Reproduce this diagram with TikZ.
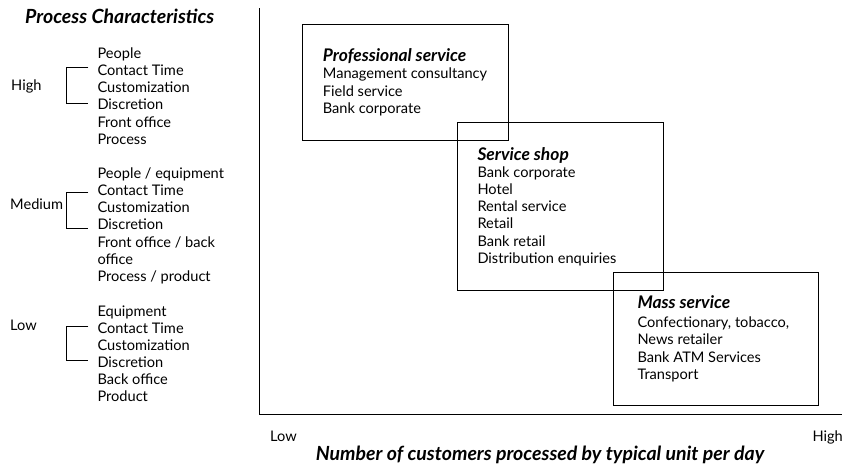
\documentclass[tikz,border=0pt]{standalone}
\usepackage{fontspec}
\setmainfont{Lato}
\begin{document}
\begin{tikzpicture}[x=1pt,y=-1pt,
  txt/.style={anchor=base west,inner sep=0pt,font=\fontsize{14.6}{17.2}\selectfont},
  head/.style={anchor=base west,inner sep=0pt,font=\fontsize{17.4}{20}\selectfont\bfseries\itshape},
  big/.style={inner sep=0pt,font=\fontsize{19.5}{22}\selectfont\bfseries\itshape},
  box/.style={draw,line width=0.9pt},
  ln/.style={line width=0.9pt}]
\useasboundingbox (0,0) rectangle (843,464);
% axes
\coordinate (ytop) at (259.5,8);
\coordinate (orig) at (259.5,414.3);
\coordinate (xend) at (842,414.3);
\draw[ln] (ytop) -- (orig) -- (xend);
% boxes
\draw[box] (302.7,24.3) rectangle (508,140);
\draw[box] (457.3,122.3) rectangle (663.3,290);
\draw[box] (613.3,272.3) rectangle (818.3,405.7);
% box texts
\node[head] (ph) at (322.7,61.7) {Professional service};
\foreach \t [count=\i] in {Management consultancy,Field service,Bank corporate}
  \node[txt] (pt\i) at (322.7,61.7+17.2*\i) {\t};
\node[head] (sh) at (477.3,160) {Service shop};
\foreach \t [count=\i] in {Bank corporate,Hotel,Rental service,Retail,Bank retail,Distribution enquiries}
  \node[txt] (st\i) at (477.3,160+17.2*\i) {\t};
\node[head] (mh) at (637.3,308.3) {Mass service};
\foreach \t [count=\i] in {{Confectionary, tobacco,},News retailer,Bank ATM Services,Transport}
  \node[txt] (mt\i) at (637.3,310.5+17.2*\i) {\t};
% left panel
\node[big,anchor=base west] (title) at (25,23.5) {Process Characteristics};
\node[txt] (hi) at (11,90) {High};
\foreach \t [count=\i] in {People,Contact Time,Customization,Discretion,Front office,Process}
  \node[txt] (hil\i) at (97.3,41.1+17.2*\i) {\t};
\node[txt] (me) at (10,209.3) {Medium};
\foreach \t [count=\i] in {People / equipment,Contact Time,Customization,Discretion,Front office / back,office,Process / product}
  \node[txt] (mel\i) at (97.3,161.1+17.2*\i) {\t};
\node[txt] (lo) at (10,330.7) {Low};
\foreach \t [count=\i] in {Equipment,Contact Time,Customization,Discretion,Back office,Product}
  \node[txt] (lol\i) at (97.3,299.7+17*\i) {\t};
% brackets
\draw[ln] (88.3,67.7) -- (66.7,67.7) -- (66.7,103.3) -- (88.3,103.3);
\draw[ln] (88.3,192.7) -- (66.7,192.7) -- (66.7,228.3) -- (88.3,228.3);
\draw[ln] (88.3,326) -- (66.7,326) -- (66.7,360.7) -- (88.3,360.7);
% axis labels
\node[txt] (xlo) at (270,441) {Low};
\node[txt,anchor=base east] (xhi) at (843,441) {High};
\node[big,anchor=base] (xt) at (540,460) {Number of customers processed by typical unit per day};
\end{tikzpicture}
\end{document}
